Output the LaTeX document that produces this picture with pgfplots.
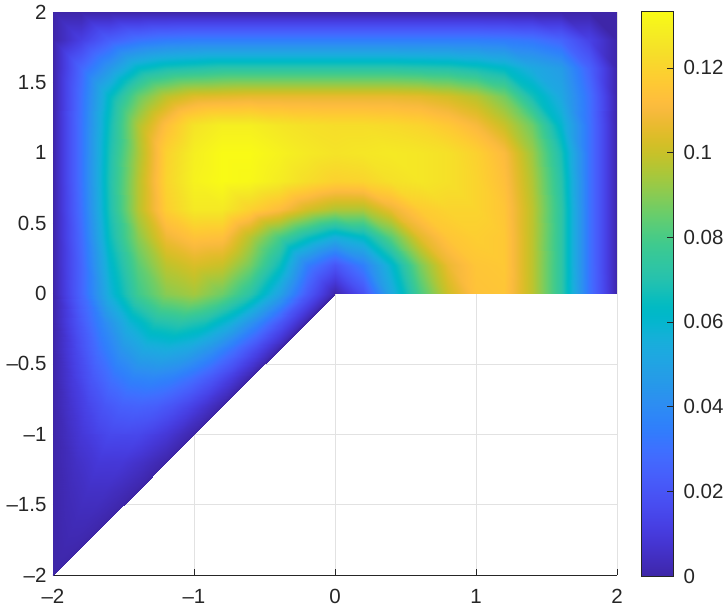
\documentclass[border=0pt]{standalone}
\usepackage{pgfplots}
\usepackage{fontspec}
\setmainfont{Liberation Sans}
\pgfplotsset{compat=1.18}
\definecolor{axc}{RGB}{38,38,38}
\definecolor{grc}{RGB}{226,226,226}
\definecolor{edgeblue}{RGB}{62,38,168}
\pgfplotsset{colormap={parula}{
rgb=(.2422,.1504,.6603) rgb=(.2504,.1650,.7076) rgb=(.2578,.1818,.7511) rgb=(.2647,.1978,.7952)
rgb=(.2706,.2147,.8364) rgb=(.2751,.2342,.8710) rgb=(.2783,.2559,.8991) rgb=(.2803,.2782,.9221)
rgb=(.2813,.3006,.9414) rgb=(.2810,.3228,.9579) rgb=(.2795,.3447,.9717) rgb=(.2760,.3667,.9829)
rgb=(.2699,.3892,.9906) rgb=(.2602,.4123,.9952) rgb=(.2440,.4358,.9988) rgb=(.2206,.4603,.9973)
rgb=(.1963,.4847,.9892) rgb=(.1834,.5074,.9798) rgb=(.1786,.5289,.9682) rgb=(.1764,.5499,.9520)
rgb=(.1687,.5703,.9359) rgb=(.1540,.5902,.9218) rgb=(.1460,.6091,.9079) rgb=(.1380,.6276,.8973)
rgb=(.1248,.6459,.8883) rgb=(.1113,.6635,.8763) rgb=(.0952,.6798,.8598) rgb=(.0689,.6948,.8394)
rgb=(.0297,.7082,.8163) rgb=(.0036,.7197,.7917) rgb=(.0067,.7293,.7660) rgb=(.0433,.7411,.7394)
rgb=(.0964,.7500,.7120) rgb=(.1408,.7584,.6842) rgb=(.1717,.7670,.6554) rgb=(.1938,.7758,.6251)
rgb=(.2161,.7843,.5923) rgb=(.2470,.7918,.5567) rgb=(.2906,.7973,.5188) rgb=(.3406,.8008,.4789)
rgb=(.3909,.8029,.4354) rgb=(.4456,.8024,.3909) rgb=(.5044,.7993,.3480) rgb=(.5616,.7942,.3045)
rgb=(.6174,.7876,.2612) rgb=(.6720,.7793,.2227) rgb=(.7242,.7698,.1910) rgb=(.7738,.7598,.1646)
rgb=(.8203,.7498,.1535) rgb=(.8634,.7406,.1596) rgb=(.9035,.7330,.1774) rgb=(.9393,.7282,.2100)
rgb=(.9728,.7298,.2394) rgb=(.9956,.7434,.2371) rgb=(.9970,.7659,.2199) rgb=(.9952,.7893,.2028)
rgb=(.9892,.8136,.1885) rgb=(.9786,.8386,.1766) rgb=(.9676,.8639,.1643) rgb=(.9610,.8890,.1537)
rgb=(.9597,.9135,.1423) rgb=(.9628,.9373,.1265) rgb=(.9691,.9606,.1064) rgb=(.9769,.9839,.0805)
}}
\begin{document}
\begin{tikzpicture}
\path[use as bounding box] (-53pt,-36pt) rectangle (673pt,575pt);
\begin{axis}[
 at={(0pt,0pt)}, anchor=south west,
 scale only axis, width=564pt, height=563pt,
 xmin=-2,xmax=2,ymin=-2,ymax=2,
 axis x line*=bottom, axis y line*=left,
 y axis line style={draw=none},
 x axis line style={draw=axc,line width=0.8pt},
 xtick={-2,-1,0,1,2}, xticklabels={--2,--1,0,1,2},
 ytick={-2,-1.5,-1,-0.5,0,0.5,1,1.5,2},
 yticklabels={--2,--1.5,--1,--0.5,0,0.5,1,1.5,2},
 tick align=inside, major tick length=6pt,
 tick style={draw=axc,line width=0.6pt},
 x tick label style={font=\fontsize{20.5}{20.5}\selectfont,text=axc,yshift=-11pt},
 y tick label style={font=\fontsize{20.5}{20.5}\selectfont,text=axc,xshift=-3pt},
 grid=major, grid style={draw=grc,line width=0.7pt},
 colormap name=parula,
 point meta min=0, point meta max=0.1333,
]
\addplot[surf,shader=interp,mesh/rows=11,mesh/cols=21,mesh/ordering=x varies,point meta=explicit]
 table[row sep=\\,x=x,y=y,meta=u]{
x y u\\
-2 0 0\\ -1.8 0 .026\\ -1.6 0 .056\\ -1.4 0 .078\\ -1.2 0 .09\\ -1 0 .094\\ -.8 0 .086\\ -.6 0 .072\\ -.4 0 .05\\ -.2 0 .022\\ 0 0 0\\ .2 0 .018\\ .4 0 .052\\ .6 0 .08\\ .8 0 .101\\ 1 0 .114\\ 1.2 0 .115\\ 1.4 0 .098\\ 1.6 0 .073\\ 1.8 0 .031\\ 2 0 0\\
-2 .2 0\\ -1.8 .2 .026\\ -1.6 .2 .06\\ -1.4 .2 .083\\ -1.2 .2 .098\\ -1 .2 .103\\ -.8 .2 .1\\ -.6 .2 .087\\ -.4 .2 .066\\ -.2 .2 .035\\ 0 .2 .02\\ .2 .2 .035\\ .4 .2 .06\\ .6 .2 .088\\ .8 .2 .107\\ 1 .2 .115\\ 1.2 .2 .116\\ 1.4 .2 .098\\ 1.6 .2 .073\\ 1.8 .2 .031\\ 2 .2 0\\
-2 .4 0\\ -1.8 .4 .028\\ -1.6 .4 .065\\ -1.4 .4 .09\\ -1.2 .4 .108\\ -1 .4 .114\\ -.8 .4 .113\\ -.6 .4 .097\\ -.4 .4 .08\\ -.2 .4 .066\\ 0 .4 .055\\ .2 .4 .0625\\ .4 .4 .083\\ .6 .4 .105\\ .8 .4 .115\\ 1 .4 .118\\ 1.2 .4 .116\\ 1.4 .4 .098\\ 1.6 .4 .073\\ 1.8 .4 .031\\ 2 .4 0\\
-2 .6 0\\ -1.8 .6 .03\\ -1.6 .6 .068\\ -1.4 .6 .097\\ -1.2 .6 .118\\ -1 .6 .127\\ -.8 .6 .127\\ -.6 .6 .119\\ -.4 .6 .112\\ -.2 .6 .102\\ 0 .6 .096\\ .2 .6 .096\\ .4 .6 .107\\ .6 .6 .117\\ .8 .6 .12\\ 1 .6 .12\\ 1.2 .6 .115\\ 1.4 .6 .098\\ 1.6 .6 .073\\ 1.8 .6 .031\\ 2 .6 0\\
-2 .8 0\\ -1.8 .8 .031\\ -1.6 .8 .069\\ -1.4 .8 .097\\ -1.2 .8 .12\\ -1 .8 .13\\ -.8 .8 .133\\ -.6 .8 .132\\ -.4 .8 .128\\ -.2 .8 .123\\ 0 .8 .119\\ .2 .8 .12\\ .4 .8 .124\\ .6 .8 .126\\ .8 .8 .124\\ 1 .8 .12\\ 1.2 .8 .113\\ 1.4 .8 .096\\ 1.6 .8 .071\\ 1.8 .8 .031\\ 2 .8 0\\
-2 1 0\\ -1.8 1 .031\\ -1.6 1 .068\\ -1.4 1 .095\\ -1.2 1 .119\\ -1 1 .129\\ -.8 1 .133\\ -.6 1 .133\\ -.4 1 .13\\ -.2 1 .127\\ 0 1 .125\\ .2 1 .126\\ .4 1 .127\\ .6 1 .126\\ .8 1 .124\\ 1 1 .119\\ 1.2 1 .111\\ 1.4 1 .093\\ 1.6 1 .068\\ 1.8 1 .031\\ 2 1 0\\
-2 1.2 0\\ -1.8 1.2 .031\\ -1.6 1.2 .066\\ -1.4 1.2 .096\\ -1.2 1.2 .113\\ -1 1.2 .125\\ -.8 1.2 .129\\ -.6 1.2 .129\\ -.4 1.2 .126\\ -.2 1.2 .124\\ 0 1.2 .123\\ .2 1.2 .123\\ .4 1.2 .122\\ .6 1.2 .12\\ .8 1.2 .116\\ 1 1.2 .11\\ 1.2 1.2 .1\\ 1.4 1.2 .086\\ 1.6 1.2 .06\\ 1.8 1.2 .031\\ 2 1.2 0\\
-2 1.4 0\\ -1.8 1.4 .03\\ -1.6 1.4 .0625\\ -1.4 1.4 .085\\ -1.2 1.4 .098\\ -1 1.4 .104\\ -.8 1.4 .105\\ -.6 1.4 .106\\ -.4 1.4 .106\\ -.2 1.4 .106\\ 0 1.4 .106\\ .2 1.4 .106\\ .4 1.4 .106\\ .6 1.4 .105\\ .8 1.4 .102\\ 1 1.4 .097\\ 1.2 1.4 .087\\ 1.4 1.4 .067\\ 1.6 1.4 .052\\ 1.8 1.4 .03\\ 2 1.4 0\\
-2 1.6 0\\ -1.8 1.6 .027\\ -1.6 1.6 .045\\ -1.4 1.6 .0625\\ -1.2 1.6 .068\\ -1 1.6 .07\\ -.8 1.6 .072\\ -.6 1.6 .072\\ -.4 1.6 .072\\ -.2 1.6 .072\\ 0 1.6 .072\\ .2 1.6 .072\\ .4 1.6 .072\\ .6 1.6 .071\\ .8 1.6 .07\\ 1 1.6 .067\\ 1.2 1.6 .0625\\ 1.4 1.6 .053\\ 1.6 1.6 .047\\ 1.8 1.6 .025\\ 2 1.6 0\\
-2 1.8 0\\ -1.8 1.8 .012\\ -1.6 1.8 .024\\ -1.4 1.8 .031\\ -1.2 1.8 .034\\ -1 1.8 .035\\ -.8 1.8 .035\\ -.6 1.8 .035\\ -.4 1.8 .035\\ -.2 1.8 .035\\ 0 1.8 .035\\ .2 1.8 .035\\ .4 1.8 .035\\ .6 1.8 .035\\ .8 1.8 .035\\ 1 1.8 .035\\ 1.2 1.8 .034\\ 1.4 1.8 .032\\ 1.6 1.8 .026\\ 1.8 1.8 .013\\ 2 1.8 0\\
-2 2 0\\ -1.8 2 0\\ -1.6 2 0\\ -1.4 2 0\\ -1.2 2 0\\ -1 2 0\\ -.8 2 0\\ -.6 2 0\\ -.4 2 0\\ -.2 2 0\\ 0 2 0\\ .2 2 0\\ .4 2 0\\ .6 2 0\\ .8 2 0\\ 1 2 0\\ 1.2 2 0\\ 1.4 2 0\\ 1.6 2 0\\ 1.8 2 0\\ 2 2 0\\
};
\addplot[surf,shader=interp,mesh/rows=6,mesh/cols=11,mesh/ordering=x varies,point meta=explicit]
 table[row sep=\\,x=x,y=y,meta=u]{
x y u\\
-2 -1 0\\ -1.9 -1 .0043\\ -1.8 -1 .0088\\ -1.7 -1 .0128\\ -1.6 -1 .0154\\ -1.5 -1 .016\\ -1.4 -1 .015\\ -1.3 -1 .0125\\ -1.2 -1 .0088\\ -1.1 -1 .0045\\ -1 -1 0\\
-2 -.8 0\\ -1.88 -.8 .0068\\ -1.76 -.8 .0138\\ -1.64 -.8 .02\\ -1.52 -.8 .024\\ -1.4 -.8 .025\\ -1.28 -.8 .0235\\ -1.16 -.8 .0195\\ -1.04 -.8 .0138\\ -.92 -.8 .007\\ -.8 -.8 0\\
-2 -.6 0\\ -1.86 -.6 .0103\\ -1.72 -.6 .0209\\ -1.58 -.6 .0304\\ -1.44 -.6 .0365\\ -1.3 -.6 .038\\ -1.16 -.6 .0357\\ -1.02 -.6 .0296\\ -.88 -.6 .0209\\ -.74 -.6 .0106\\ -.6 -.6 0\\
-2 -.4 0\\ -1.84 -.4 .0146\\ -1.68 -.4 .0297\\ -1.52 -.4 .0432\\ -1.36 -.4 .0518\\ -1.2 -.4 .054\\ -1.04 -.4 .0508\\ -.88 -.4 .0421\\ -.72 -.4 .0297\\ -.56 -.4 .0151\\ -.4 -.4 0\\
-2 -.2 0\\ -1.82 -.2 .0194\\ -1.64 -.2 .0396\\ -1.46 -.2 .0576\\ -1.28 -.2 .0691\\ -1.1 -.2 .072\\ -.92 -.2 .0677\\ -.74 -.2 .0562\\ -.56 -.2 .0396\\ -.38 -.2 .0202\\ -.2 -.2 0\\
-2 0 0\\ -1.8 0 .026\\ -1.6 0 .056\\ -1.4 0 .078\\ -1.2 0 .09\\ -1 0 .094\\ -.8 0 .086\\ -.6 0 .072\\ -.4 0 .05\\ -.2 0 .022\\ 0 0 0\\
};
\addplot[surf,shader=interp,mesh/rows=6,mesh/cols=6,mesh/ordering=x varies,point meta=explicit]
 table[row sep=\\,x=x,y=y,meta=u]{
x y u\\
-2 -2 0\\ -2 -2 0\\ -2 -2 0\\ -2 -2 0\\ -2 -2 0\\ -2 -2 0\\
-2 -1.8 0\\ -1.96 -1.8 .0007\\ -1.92 -1.8 .0012\\ -1.88 -1.8 .0011\\ -1.84 -1.8 .0007\\ -1.8 -1.8 0\\
-2 -1.6 0\\ -1.92 -1.6 .0017\\ -1.84 -1.6 .0029\\ -1.76 -1.6 .0028\\ -1.68 -1.6 .0017\\ -1.6 -1.6 0\\
-2 -1.4 0\\ -1.88 -1.4 .003\\ -1.76 -1.4 .0053\\ -1.64 -1.4 .0052\\ -1.52 -1.4 .003\\ -1.4 -1.4 0\\
-2 -1.2 0\\ -1.84 -1.2 .0052\\ -1.68 -1.2 .0091\\ -1.52 -1.2 .0089\\ -1.36 -1.2 .0052\\ -1.2 -1.2 0\\
-2 -1 0\\ -1.8 -1 .0088\\ -1.6 -1 .0154\\ -1.4 -1 .015\\ -1.2 -1 .0088\\ -1 -1 0\\
};
\addplot[draw=edgeblue,line width=0.9pt,forget plot] coordinates {(-2,-2) (0,0)};
\end{axis}
\begin{axis}[
 at={(588.5pt,-1pt)}, anchor=south west,
 scale only axis, width=31.5pt, height=564.5pt,
 xmin=0,xmax=1,ymin=0,ymax=0.1333,
 xtick=\empty,
 ytick={0,0.02,0.04,0.06,0.08,0.1,0.12},
 yticklabels={0,0.02,0.04,0.06,0.08,0.1,0.12},
 ytick pos=right, yticklabel pos=right,
 tick align=inside, major tick length=6pt,
 tick style={draw=axc,line width=0.6pt},
 axis line style={draw=axc,line width=0.7pt},
 axis on top,
 y tick label style={font=\fontsize{20.5}{20.5}\selectfont,text=axc,xshift=7pt},
 colormap name=parula,
 point meta min=0, point meta max=0.1333,
]
\addplot[surf,shader=interp,mesh/rows=2,mesh/cols=2,mesh/ordering=x varies,point meta=explicit]
 table[row sep=\\,x=x,y=y,meta=u]{
x y u\\
0 0 0\\ 1 0 0\\
0 .1333 .1333\\ 1 .1333 .1333\\
};
\end{axis}
\end{tikzpicture}
\end{document}
